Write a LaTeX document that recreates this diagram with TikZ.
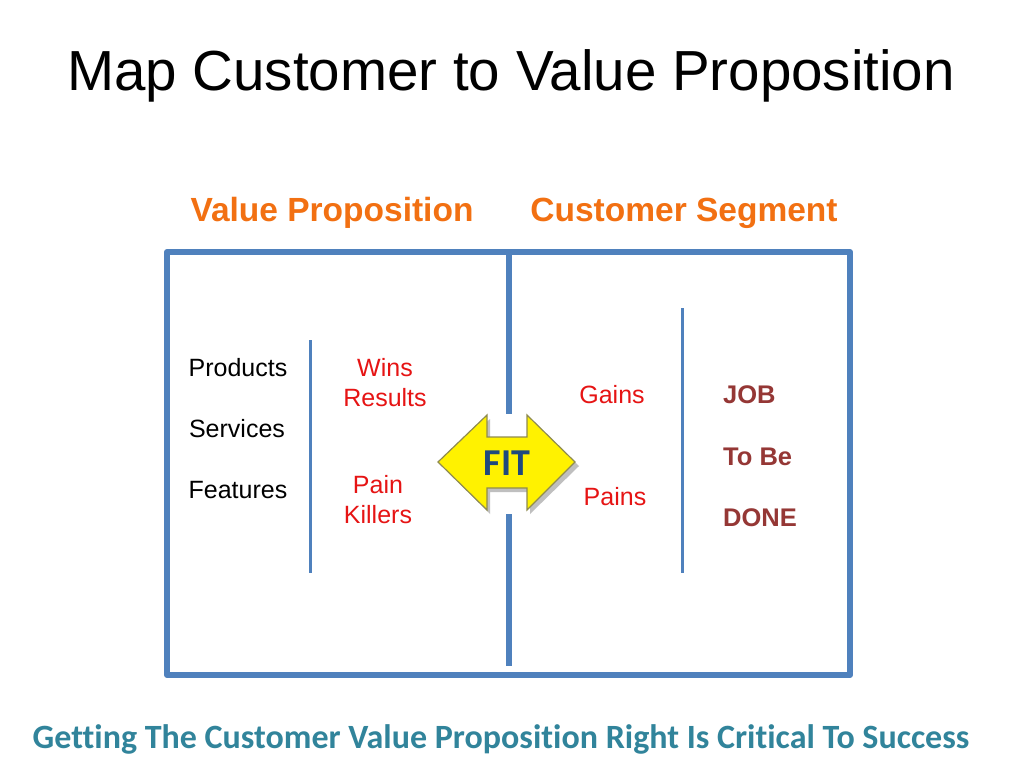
\documentclass[tikz,border=0pt]{standalone}
\usepackage{fontspec}
\setmainfont{Liberation Sans}
\newfontfamily\calibri[Ligatures=NoCommon]{Carlito}
\usepackage{tikz}
\usetikzlibrary{positioning,calc}

\definecolor{frameblue}{RGB}{79,129,189}
\definecolor{headorange}{RGB}{242,112,18}
\definecolor{itemred}{RGB}{230,20,20}
\definecolor{jobred}{RGB}{149,55,53}
\definecolor{fitblue}{RGB}{31,73,125}
\definecolor{footteal}{RGB}{49,132,155}

\begin{document}
\begin{tikzpicture}[
  x=1pt, y=-1pt,
  frame/.style={draw=frameblue, line width=6pt},
  inner/.style={draw=frameblue, line width=3pt},
  item/.style={inner sep=0pt, font=\fontsize{25}{30}\selectfont},
  gainpain/.style={item, text=itemred, align=center},
  jobtext/.style={item, text=jobred, font=\fontsize{25.5}{30}\selectfont\bfseries, anchor=west},
  heading/.style={inner sep=0pt, text=headorange, font=\fontsize{33.5}{38}\selectfont\bfseries}
]
  \useasboundingbox (0,0) rectangle (1024,768);
  \fill[white] (0,0) rectangle (1024,768);

  % Title and headings
  \node[inner sep=0pt, font=\fontsize{56.5}{66}\selectfont] (title) at (511,76) {Map Customer to Value Proposition};
  \node[heading] (vp) at (332,213) {Value Proposition};
  \node[heading] (cs) at (684,213) {Customer Segment};

  % Frame
  \draw[frame, line join=round] (167,252) rectangle (850,675);
  \draw[frame] (509,252) -- (509,414);
  \draw[frame] (509,514) -- (509,666);
  \draw[inner] (310,340) -- (310,573);
  \draw[inner] (682,308) -- (682,573);

  % Left column
  \node[item] (products) at (238,368) {Products};
  \node[item] (services) at (237,429) {Services};
  \node[item] (features) at (238,490) {Features};
  \node[gainpain] (wins) at (385,383) {Wins\\Results};
  \node[gainpain] (killers) at (378,500) {Pain\\Killers};

  % Right column
  \node[gainpain] (gains) at (612,395) {Gains};
  \node[gainpain] (pains) at (615,497) {Pains};
  \node[jobtext] (job) at (723,395) {JOB};
  \node[jobtext] (tobe) at (723,457) {To Be};
  \node[jobtext] (done) at (723,518) {DONE};

  % FIT arrow
  \fill[black!25] (442,466) -- (490,419) -- (490,441) -- (530,441) -- (530,419)
    -- (579,466) -- (530,514) -- (530,492) -- (490,492) -- (490,514) -- cycle;
  \draw[fill=yellow, draw=olive!45!gray, line width=1.2pt] (438,462) -- (487,415) -- (487,437)
    -- (527,437) -- (527,415) -- (575,462) -- (527,510) -- (527,488) -- (487,488)
    -- (487,510) -- cycle;
  \node[inner sep=0pt, text=fitblue, font=\fontsize{38}{44}\calibri\bfseries] (fit) at (507,463) {FIT};

  % Footer
  \node[inner sep=0pt, text=footteal, font=\fontsize{34}{40}\calibri\bfseries] (foot) at (501,739)
    {Getting The Customer Value Proposition Right Is Critical To Success};
\end{tikzpicture}
\end{document}
